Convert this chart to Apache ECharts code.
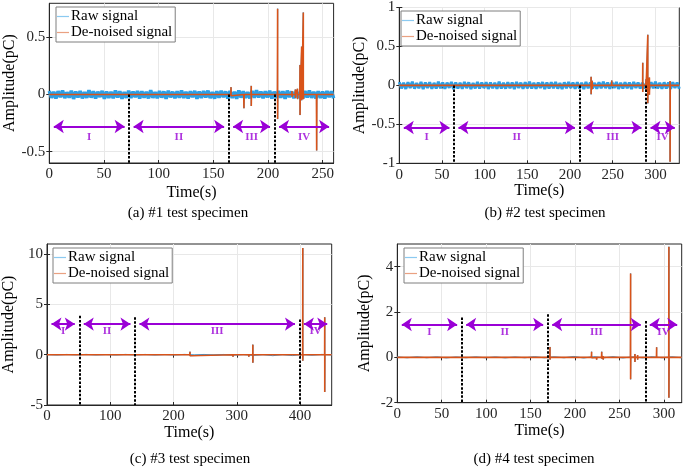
<!DOCTYPE html>
<html><head><meta charset="utf-8">
<script src="https://cdn.jsdelivr.net/npm/echarts@6/dist/echarts.min.js"></script>
<style>html,body{margin:0;padding:0;background:#fff}#c{width:685px;height:469px}</style>
</head><body><div id="c"></div>
<script>
// ---------------- data ----------------
const romans = ['I', 'II', 'III', 'IV'];
const seriesNames = ['Raw signal', 'De-noised signal'];
const captions = ['(a) #1 test specimen', '(b) #2 test specimen', '(c) #3 test specimen', '(d) #4 test specimen'];

const noiseA = [0.031,-0.028,0.024,-0.035,0.029,-0.022,0.036,-0.031,0.02,-0.027,0.033,-0.038,0.026,-0.024,0.03,-0.033,0.022,-0.029,0.037,-0.026,0.028,-0.034,0.025,-0.021,0.032,-0.036,0.027,-0.03,0.023,-0.032,0.035,-0.025,0.029,-0.037,0.021,-0.028,0.034,-0.03,0.026,-0.023,0.031,-0.035,0.028,-0.027,0.024,-0.033,0.038,-0.029,0.022,-0.031,0.03,-0.026,0.027,-0.036,0.033,-0.024,0.025,-0.032,0.029,-0.028,0.036,-0.03,0.023,-0.034,0.028,-0.022,0.032,-0.037,0.026,-0.029,0.03,-0.025,0.034,-0.031,0.021,-0.035,0.029,-0.027,0.033,-0.023,0.027,-0.034,0.031,-0.029,0.024,-0.036,0.035,-0.026,0.028,-0.03,0.022,-0.033,0.03,-0.028,0.037,-0.025,0.026,-0.032,0.029,-0.024,0.033,-0.035,0.025,-0.03,0.031,-0.027,0.028,-0.036,0.034,-0.022,0.027,-0.031,0.023,-0.029,0.032,-0.034,0.03,-0.026,0.036,-0.028,0.024,-0.033,0.029,-0.03,0.026,-0.035,0.031,-0.023,0.028,-0.032];
const noiseB = [0.042,-0.038,0.035,-0.045,0.04,-0.033,0.047,-0.041,0.031,-0.037,0.044,-0.048,0.036,-0.034,0.041,-0.043,0.032,-0.039,0.046,-0.036,0.038,-0.044,0.035,-0.031,0.043,-0.046,0.037,-0.04,0.033,-0.042,0.045,-0.035,0.039,-0.047,0.031,-0.038,0.044,-0.04,0.036,-0.033,0.041,-0.045,0.038,-0.037,0.034,-0.043,0.048,-0.039,0.032,-0.041,0.04,-0.036,0.037,-0.046,0.043,-0.034,0.035,-0.042,0.039,-0.038,0.046,-0.04,0.033,-0.044,0.038,-0.032,0.042,-0.047,0.036,-0.039,0.04,-0.035,0.044,-0.041,0.031,-0.045,0.039,-0.037,0.043,-0.033,0.037,-0.044,0.041,-0.039,0.034,-0.046,0.045,-0.036,0.038,-0.04,0.032,-0.043,0.04,-0.038,0.047,-0.035,0.036,-0.042,0.039,-0.034,0.043,-0.045,0.035,-0.04,0.041,-0.037,0.038,-0.046,0.044,-0.032,0.037,-0.041,0.033,-0.039,0.042,-0.044,0.04,-0.036,0.046,-0.038,0.034,-0.043,0.039,-0.04,0.036,-0.045,0.041,-0.033,0.038,-0.042];
const noiseC = [0.02,-0.03,0.025,-0.02,0.03,-0.025,0.02,-0.03,0.028,-0.022,0.025,-0.03,0.02,-0.026,0.03,-0.02,0.024,-0.03,0.022,-0.05,0.02,-0.08,0.01,-0.1,0.01,-0.09,0.02,-0.05,0.03,-0.02];
const noiseD = [0.02,-0.02,0.025,-0.018,0.022,-0.025,0.018,-0.02,0.024,-0.022,0.02,-0.024,0.018,-0.02,0.03,-0.022,0.025,-0.02,0.04,-0.03,0.035,-0.025,0.03,-0.028,0.026,-0.024,0.03,-0.02,0.025,-0.02];

// spikes: [time, peak, trough]
const spikesA = [[166.2,0.065,-0.01],[178,0.01,-0.12],[184.7,0.076,-0.1],[208.8,0.753,-0.215],[222,0.03,-0.02],[225,0.045,-0.03],[227,0.05,-0.04],[229.3,0.26,-0.18],[230.8,0.42,-0.05],[232.3,0.72,-0.04],[244.5,0.0,-0.49]];
const spikesB = [[212.5,0.025,-0.01],[224.7,0.11,-0.115],[226,0.06,-0.05],[248.9,0.064,0],[285.2,0.29,-0.085],[289,0.08,-0.08],[291.1,0.65,-0.23],[293,0.1,-0.12],[317.2,0.055,-0.98]];
const spikesC = [[226,0.3,-0.1],[294,0,-0.2],[308.6,0,-0.1],[319,0,-0.2],[325.4,1.0,-0.8],[404.3,10.6,-0.6],[439,3.73,-3.7]];
const spikesD = [[171.8,0.46,-0.1],[199,0.08,0],[218.6,0.25,-0.02],[224.3,0.02,-0.1],[230,0.25,-0.05],[231.7,0.05,-0.1],[246,0.08,0],[262.5,3.7,-0.97],[267.4,0.15,-0.2],[270.4,0.1,-0.1],[291.8,0.45,0],[305.6,4.88,-1.78]];

// stage boundaries (s)
const boundsA = [0, 73, 164, 206, 260];
const boundsB = [0, 64, 211, 289, 328];
const boundsC = [0, 51, 139, 399, 450];
const boundsD = [0, 72.4, 169.2, 279, 320];
// top of the dashed stage lines (pC)
const dashTopA = [0, 0, 0];
const dashTopB = [0, 0, 0];
const dashTopC = [3.86, 3.73, 3.5];
const dashTopD = [1.76, 1.9, 1.6];
// arrow level and stage-label level (pC)
const arrowYA = -0.28, labelYA = -0.37;
const arrowYB = -0.54, labelYB = -0.665;
const arrowYC = 3.04, labelYC = 2.3;
const arrowYD = 1.45, labelYD = 1.12;

// axis ticks
const xTicksA = [0, 50, 100, 150, 200, 250];
const xTicksB = [0, 50, 100, 150, 200, 250, 300];
const xTicksC = [0, 100, 200, 300, 400];
const xTicksD = [0, 50, 100, 150, 200, 250, 300];
const yTicksA = [-0.5, 0, 0.5];
const yTicksB = [-1, -0.5, 0, 0.5, 1];
const yTicksC = [-5, 0, 5, 10];
const yTicksD = [-2, 0, 2, 4];
const xRangeA = [0, 260], yRangeA = [-0.6, 0.8];
const xRangeB = [0, 328], yRangeB = [-1, 1];
const xRangeC = [0, 450], yRangeC = [-5, 11];
const xRangeD = [0, 320], yRangeD = [-2, 5];

// ---------------- layout / style ----------------
const FONT = "'Liberation Serif','Times New Roman',serif";
const BLUE = '#2b9fe6', ORANGE = '#d95319', PURPLE = '#9a00d6', INK = '#262626';
const panels = [
  {noise:noiseA, spikes:spikesA, bounds:boundsA, tops:dashTopA, ay:arrowYA, ly:labelYA, xt:xTicksA, yt:yTicksA, xr:xRangeA, yr:yRangeA},
  {noise:noiseB, spikes:spikesB, bounds:boundsB, tops:dashTopB, ay:arrowYB, ly:labelYB, xt:xTicksB, yt:yTicksB, xr:xRangeB, yr:yRangeB},
  {noise:noiseC, spikes:spikesC, bounds:boundsC, tops:dashTopC, ay:arrowYC, ly:labelYC, xt:xTicksC, yt:yTicksC, xr:xRangeC, yr:yRangeC},
  {noise:noiseD, spikes:spikesD, bounds:boundsD, tops:dashTopD, ay:arrowYD, ly:labelYD, xt:xTicksD, yt:yTicksD, xr:xRangeD, yr:yRangeD}
];
const grids = [
  {left:49.3, top:3.3, width:284.3, height:159.7},
  {left:399.3, top:6.3, width:280, height:157},
  {left:46, top:244, width:285.7, height:161},
  {left:397.3, top:244, width:284.4, height:158.7}
];
const noiseWidth = [3.6, 3, 1, 1];
const legendPos = [{left:56, top:7}, {left:401, top:11}, {left:53, top:248}, {left:404, top:248}];
const yNameGap = [32, 28, 30, 25];
const xNameGap = [22, 15, 20, 18];
const captionPos = [[188, 213], [545, 213], [190, 459], [534, 459]];

function noiseData(p) {
  const n = p.noise.length;
  return p.noise.map((v, i) => [p.xr[0] + i * (p.xr[1] - p.xr[0]) / (n - 1), v]);
}
function spikeData(p) {
  const d = [[p.xr[0], 0]];
  p.spikes.forEach(s => { d.push([s[0] - 0.2, 0], [s[0], s[1]], [s[0], s[2]], [s[0] + 0.2, 0]); });
  d.push([p.xr[1], 0]);
  return d;
}

const option = {
  animation: false,
  backgroundColor: '#fff',
  textStyle: {fontFamily: FONT},
  grid: grids.map(g => Object.assign({show: true, borderColor: INK, borderWidth: 1, backgroundColor: '#fff', containLabel: false}, g)),
  legend: panels.map((p, i) => ({
    orient: 'vertical', left: legendPos[i].left, top: legendPos[i].top,
    data: seriesNames.map(n => ({name: n, itemStyle: {opacity: 0.55}})),
    icon: 'rect', itemWidth: 12, itemHeight: 1.2, itemGap: 1,
    padding: [2, 3, 2, 1], backgroundColor: '#fff', borderColor: '#7f7f7f', borderWidth: 1,
    textStyle: {fontFamily: FONT, fontSize: 15, color: '#000', padding: [0, 0, 0, -3]},
    selectedMode: false
  })),
  xAxis: [], yAxis: [], series: [],
  graphic: captions.map((t, i) => ({type: 'text', x: captionPos[i][0], y: captionPos[i][1],
    style: {text: t, font: '15px ' + FONT, fill: '#000', textAlign: 'center', textVerticalAlign: 'middle'}}))
};

panels.forEach((p, i) => {
  option.xAxis.push({
    gridIndex: i, type: 'value', min: p.xr[0], max: p.xr[1],
    position: 'bottom', name: 'Time(s)', nameLocation: 'middle', nameGap: xNameGap[i],
    nameTextStyle: {fontFamily: FONT, fontSize: 16, color: '#000'},
    axisLine: {show: true, onZero: false, lineStyle: {color: INK}},
    axisTick: {show: true, inside: true, length: 3, customValues: p.xt, lineStyle: {color: INK}},
    axisLabel: {show: true, customValues: p.xt, fontFamily: FONT, fontSize: 15, color: INK, margin: 4},
    splitLine: {show: true, lineStyle: {color: '#e8e8e8', width: 1}}
  });
  option.yAxis.push({
    gridIndex: i, type: 'value', min: p.yr[0], max: p.yr[1], position: 'left',
    name: 'Amplitude(pC)', nameLocation: 'middle', nameGap: yNameGap[i],
    nameTextStyle: {fontFamily: FONT, fontSize: 16, color: '#000'},
    axisLine: {show: true, onZero: false, lineStyle: {color: INK}},
    axisTick: {show: true, inside: true, length: 3, customValues: p.yt, lineStyle: {color: INK}},
    axisLabel: {show: true, customValues: p.yt, fontFamily: FONT, fontSize: 15, color: INK, margin: 4},
    splitLine: {show: true, lineStyle: {color: '#e8e8e8', width: 1}}
  });
});
// mirrored tick axes (top / right)
panels.forEach((p, i) => {
  option.xAxis.push({gridIndex: i, type: 'value', min: p.xr[0], max: p.xr[1], position: 'top',
    axisLine: {show: false}, axisLabel: {show: false}, splitLine: {show: false},
    axisTick: {show: true, inside: true, length: 3, customValues: p.xt, lineStyle: {color: INK}}});
  option.yAxis.push({gridIndex: i, type: 'value', min: p.yr[0], max: p.yr[1], position: 'right',
    axisLine: {show: false}, axisLabel: {show: false}, splitLine: {show: false},
    axisTick: {show: true, inside: true, length: 3, customValues: p.yt, lineStyle: {color: INK}}});
});

panels.forEach((p, i) => {
  const segs = [];
  const inset = 4.5 / grids[i].width * (p.xr[1] - p.xr[0]);
  for (let k = 0; k < 4; k++) segs.push([p.bounds[k], p.bounds[k + 1]]);
  // raw signal: background noise band
  option.series.push({
    name: seriesNames[0], type: 'line', xAxisIndex: i, yAxisIndex: i, data: noiseData(p),
    showSymbol: false, symbol: 'none', color: BLUE, lineStyle: {width: noiseWidth[i], color: BLUE}, z: 2, silent: true
  });
  // raw signal: discharge pulses
  option.series.push({
    name: seriesNames[0], type: 'line', xAxisIndex: i, yAxisIndex: i, data: spikeData(p),
    showSymbol: false, symbol: 'none', color: BLUE, lineStyle: {width: 1, color: BLUE}, z: 2, silent: true
  });
  option.series.push({
    name: seriesNames[1], type: 'line', xAxisIndex: i, yAxisIndex: i, data: spikeData(p),
    showSymbol: false, symbol: 'none', color: ORANGE, lineStyle: {width: 1.6, color: ORANGE}, z: 3, silent: true,
    markLine: {
      silent: true, symbol: ['none', 'none'], label: {show: false},
      lineStyle: {color: '#000', width: 2, type: [2.5, 1.6]},
      data: p.bounds.slice(1, 4).map((b, k) => [{coord: [b, p.tops[k]]}, {coord: [b, p.yr[0]]}])
    }
  });
  option.series.push({
    type: 'scatter', xAxisIndex: i, yAxisIndex: i, z: 5, silent: true,
    data: segs.map((s, k) => [(s[0] + s[1]) / 2, p.ly, romans[k]]),
    symbolSize: 0.1, itemStyle: {color: 'rgba(0,0,0,0)'},
    label: {show: true, position: 'inside', formatter: d => d.value[2], color: PURPLE,
      fontFamily: FONT, fontSize: 11, fontWeight: 'bold'},
    markLine: {
      silent: true, symbol: ['arrow', 'arrow'], symbolSize: 10, label: {show: false},
      lineStyle: {color: PURPLE, width: 2, type: 'solid'},
      data: segs.map(s => [{coord: [s[0] + inset, p.ay]}, {coord: [s[1] - inset, p.ay]}])
    }
  });
});

const chart = echarts.init(document.getElementById('c'), null, {renderer: 'canvas'});
chart.setOption(option);
</script>
</body></html>
